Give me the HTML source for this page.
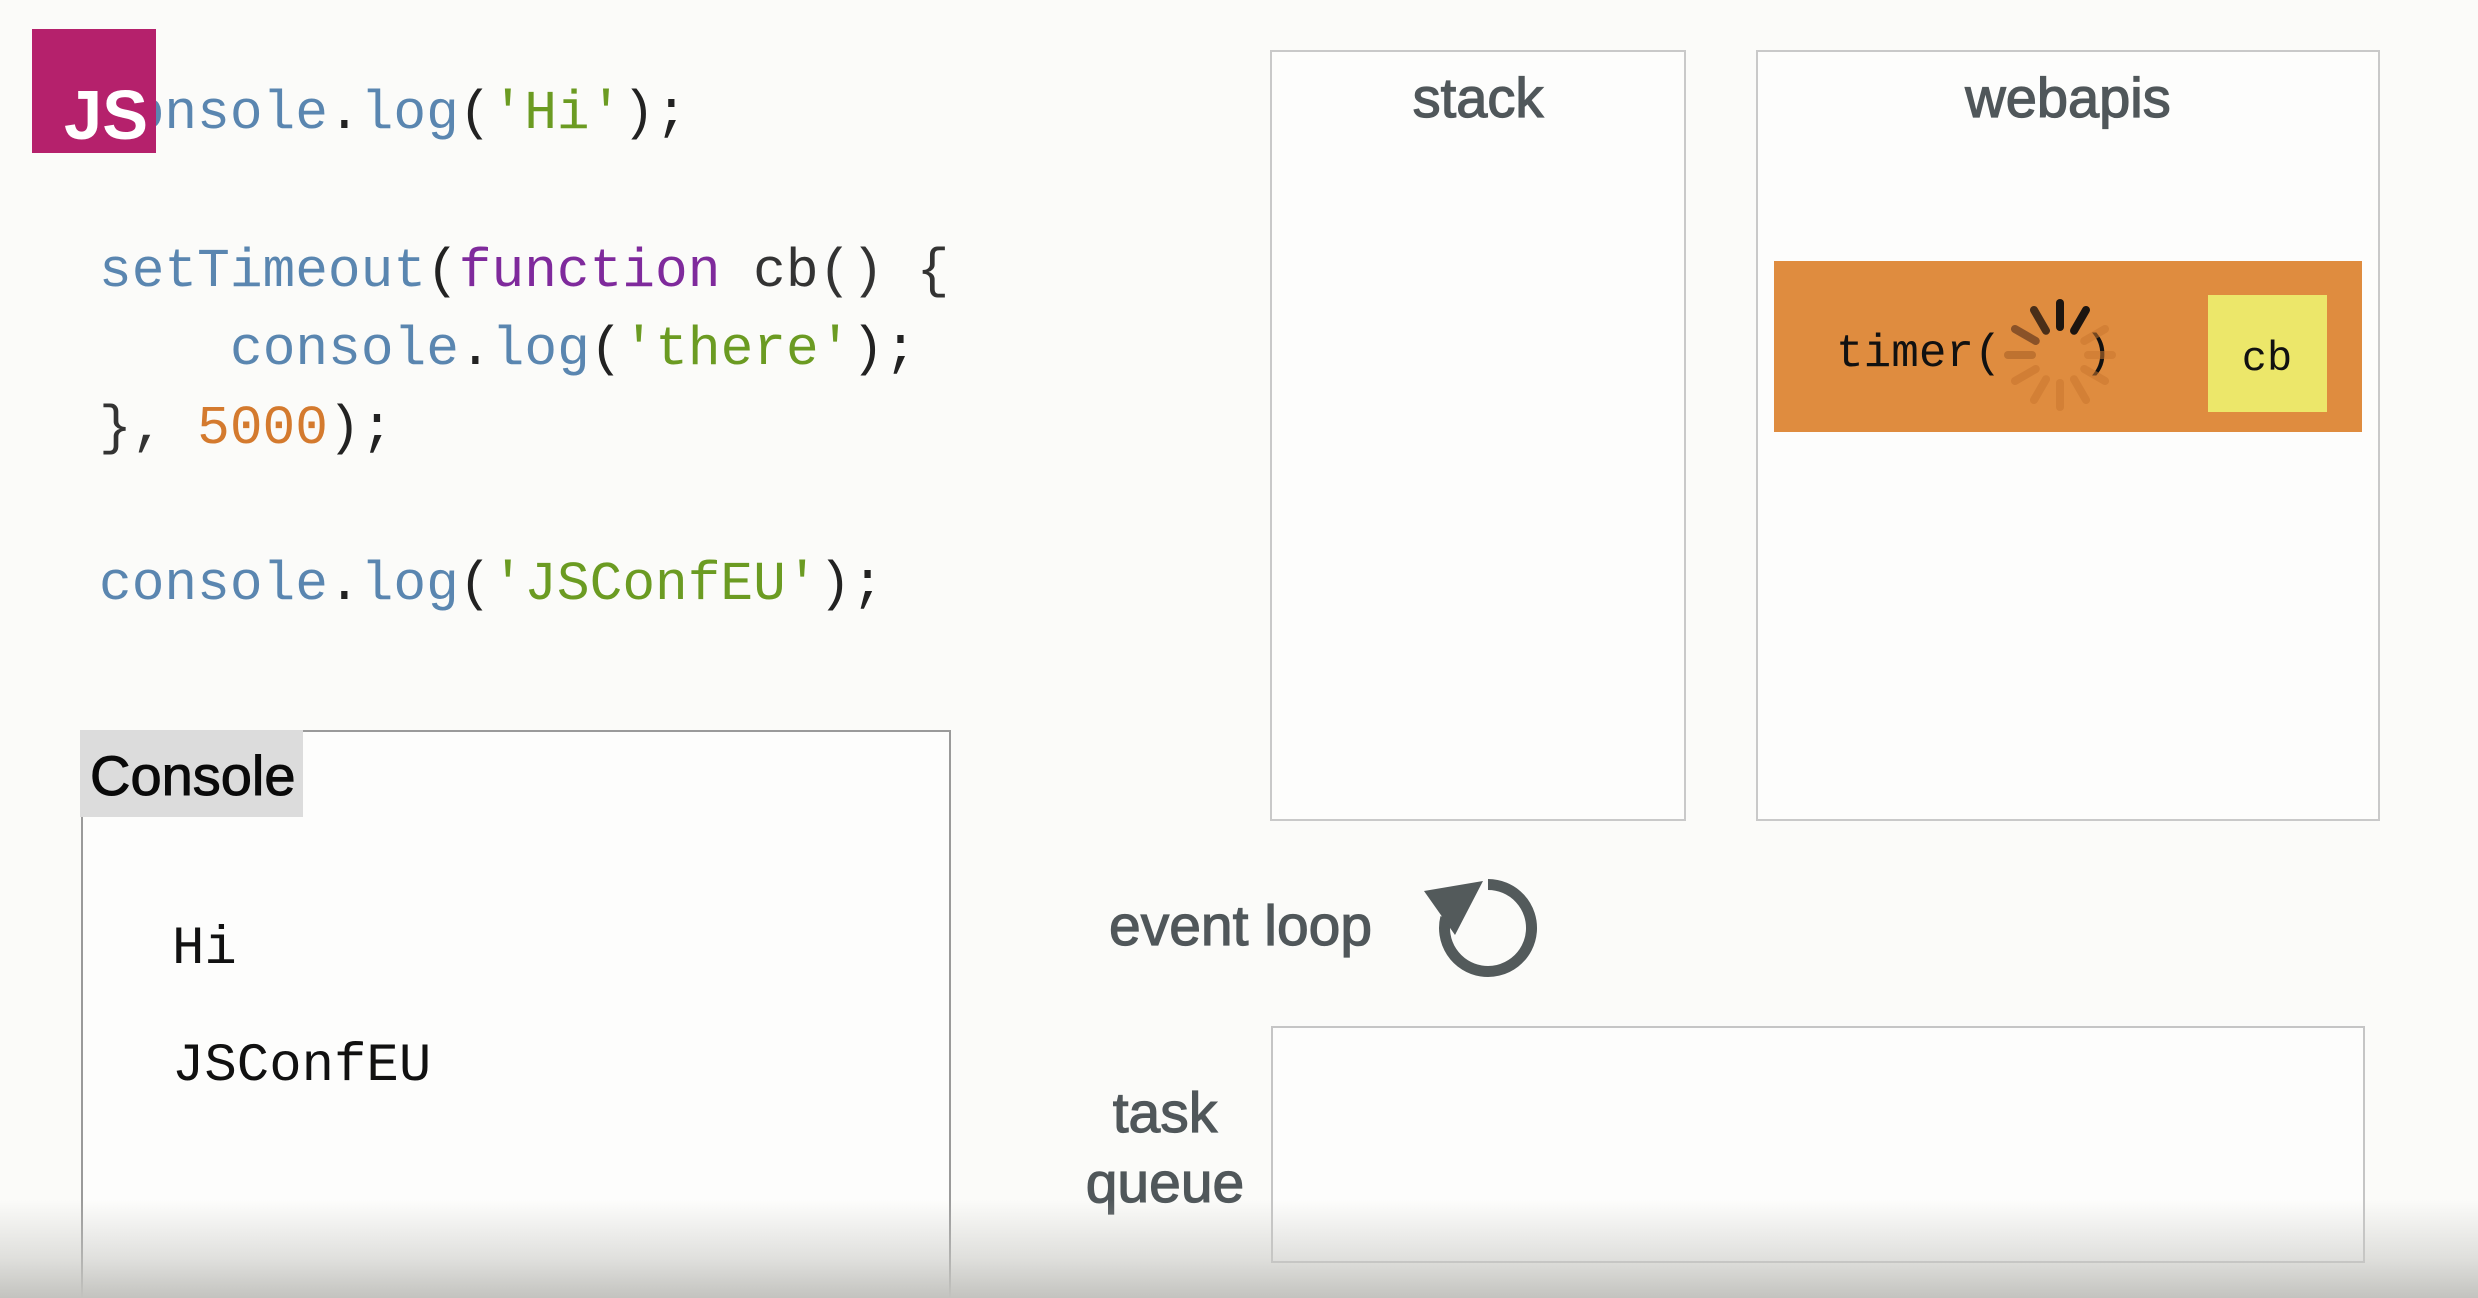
<!DOCTYPE html>
<html>
<head>
<meta charset="utf-8">
<style>
  html, body { margin: 0; padding: 0; }
  body { width: 2478px; height: 1298px; overflow: hidden; background: #fbfbf9; position: relative; }
  svg { position: absolute; left: 0; top: 0; }
  svg text { white-space: pre; }
  .grad { position: absolute; left: 0; top: 1200px; width: 2478px; height: 98px;
          background: linear-gradient(to bottom, rgba(200,200,196,0) 0%, rgba(200,200,196,0.55) 60%, rgba(195,195,191,1) 100%); }
</style>
</head>
<body>
<svg width="2478" height="1298" viewBox="0 0 2478 1298" xmlns="http://www.w3.org/2000/svg">
  <rect x="0" y="0" width="2478" height="1298" fill="#fbfbf9"/>

  <!-- Code -->
  <g font-family="'Liberation Mono', monospace" font-size="54.5">
    <text x="99" y="128"><tspan fill="#5a86b0">console</tspan><tspan fill="#222">.</tspan><tspan fill="#5a86b0">log</tspan><tspan fill="#222">(</tspan><tspan fill="#6b9b22">'Hi'</tspan><tspan fill="#222">);</tspan></text>
    <text x="99" y="286"><tspan fill="#5a86b0">setTimeout</tspan><tspan fill="#222">(</tspan><tspan fill="#7f2a9c">function</tspan><tspan fill="#333"> cb() {</tspan></text>
    <text x="230" y="364"><tspan fill="#5a86b0">console</tspan><tspan fill="#222">.</tspan><tspan fill="#5a86b0">log</tspan><tspan fill="#222">(</tspan><tspan fill="#6b9b22">'there'</tspan><tspan fill="#222">);</tspan></text>
    <text x="99" y="443"><tspan fill="#333">}, </tspan><tspan fill="#d47a2e">5000</tspan><tspan fill="#222">);</tspan></text>
    <text x="99" y="599"><tspan fill="#5a86b0">console</tspan><tspan fill="#222">.</tspan><tspan fill="#5a86b0">log</tspan><tspan fill="#222">(</tspan><tspan fill="#6b9b22">'JSConfEU'</tspan><tspan fill="#222">);</tspan></text>
  </g>

  <!-- JS logo -->
  <rect x="32" y="29" width="124" height="124" fill="#b5216c"/>
  <text x="64" y="139" font-family="'Liberation Sans', sans-serif" font-weight="bold" font-size="70" fill="#ffffff" textLength="84" lengthAdjust="spacingAndGlyphs">JS</text>

  <!-- Stack box -->
  <rect x="1271" y="51" width="414" height="769" fill="#fdfdfc" stroke="#c9c9c9" stroke-width="2"/>
  <text x="1478" y="117" text-anchor="middle" font-family="'Liberation Sans', sans-serif" font-size="56" fill="#50575a" stroke="#50575a" stroke-width="1.3">stack</text>

  <!-- Webapis box -->
  <rect x="1757" y="51" width="622" height="769" fill="#fdfdfc" stroke="#c9c9c9" stroke-width="2"/>
  <text x="2068" y="117" text-anchor="middle" font-family="'Liberation Sans', sans-serif" font-size="56" fill="#50575a" stroke="#50575a" stroke-width="1.3">webapis</text>

  <!-- Timer -->
  <rect x="1774" y="261" width="588" height="171" fill="#df8c3f"/>
  <rect x="2208" y="295" width="119" height="117" fill="#ece76a"/>
  <text x="2267" y="370" text-anchor="middle" font-family="'Liberation Mono', monospace" font-size="42" fill="#111">cb</text>
  <text x="1836" y="366" font-family="'Liberation Mono', monospace" font-size="46" fill="#111">timer(   )</text>

  <!-- Spinner -->
  <g transform="translate(2060,355)" stroke-linecap="round" stroke-width="8">
    <line x1="0" y1="-28" x2="0" y2="-52" stroke="#c9772f" stroke-opacity="0.55" transform="rotate(60)"/>
    <line x1="0" y1="-28" x2="0" y2="-52" stroke="#c9772f" stroke-opacity="0.55" transform="rotate(90)"/>
    <line x1="0" y1="-28" x2="0" y2="-52" stroke="#c9772f" stroke-opacity="0.55" transform="rotate(120)"/>
    <line x1="0" y1="-28" x2="0" y2="-52" stroke="#c9772f" stroke-opacity="0.55" transform="rotate(150)"/>
    <line x1="0" y1="-28" x2="0" y2="-52" stroke="#c9772f" stroke-opacity="0.55" transform="rotate(180)"/>
    <line x1="0" y1="-28" x2="0" y2="-52" stroke="#c9772f" stroke-opacity="0.55" transform="rotate(210)"/>
    <line x1="0" y1="-28" x2="0" y2="-52" stroke="#c9772f" stroke-opacity="0.65" transform="rotate(240)"/>
    <line x1="0" y1="-28" x2="0" y2="-52" stroke="#b36a2c" stroke-opacity="0.75" transform="rotate(270)"/>
    <line x1="0" y1="-28" x2="0" y2="-52" stroke="#8a5228" transform="rotate(300)"/>
    <line x1="0" y1="-28" x2="0" y2="-52" stroke="#4a2e18" transform="rotate(330)"/>
    <line x1="0" y1="-28" x2="0" y2="-52" stroke="#1c1510" transform="rotate(0)"/>
    <line x1="0" y1="-28" x2="0" y2="-52" stroke="#1c1510" transform="rotate(30)"/>
  </g>

  <!-- Console box -->
  <rect x="82" y="731" width="868" height="620" fill="#fdfdfc" stroke="#9a9a9a" stroke-width="2"/>
  <rect x="80" y="730" width="223" height="87" fill="#dcdcdc"/>
  <text x="90" y="795" font-family="'Liberation Sans', sans-serif" font-size="56" fill="#0a0a0a" stroke="#0a0a0a" stroke-width="1">Console</text>
  <text x="172" y="963" font-family="'Liberation Mono', monospace" font-size="54" fill="#111">Hi</text>
  <text x="172" y="1080" font-family="'Liberation Mono', monospace" font-size="54" fill="#111">JSConfEU</text>

  <!-- Event loop -->
  <text x="1109" y="945" font-family="'Liberation Sans', sans-serif" font-size="57" fill="#50575a" stroke="#50575a" stroke-width="1.2">event loop</text>
  <path d="M1488 884.5 A43.5 43.5 0 1 1 1445.8 917.5" fill="none" stroke="#535a5b" stroke-width="11"/>
  <polygon points="1424,891 1483,881 1455,935" fill="#535a5b"/>

  <!-- Task queue -->
  <rect x="1272" y="1027" width="1092" height="235" fill="#fdfdfc" stroke="#c5c5c5" stroke-width="2"/>
  <text x="1165" y="1132" text-anchor="middle" font-family="'Liberation Sans', sans-serif" font-size="57" fill="#50575a" stroke="#50575a" stroke-width="1.2">task</text>
  <text x="1165" y="1202" text-anchor="middle" font-family="'Liberation Sans', sans-serif" font-size="57" fill="#50575a" stroke="#50575a" stroke-width="1.2">queue</text>
</svg>
<div class="grad"></div>
</body>
</html>
